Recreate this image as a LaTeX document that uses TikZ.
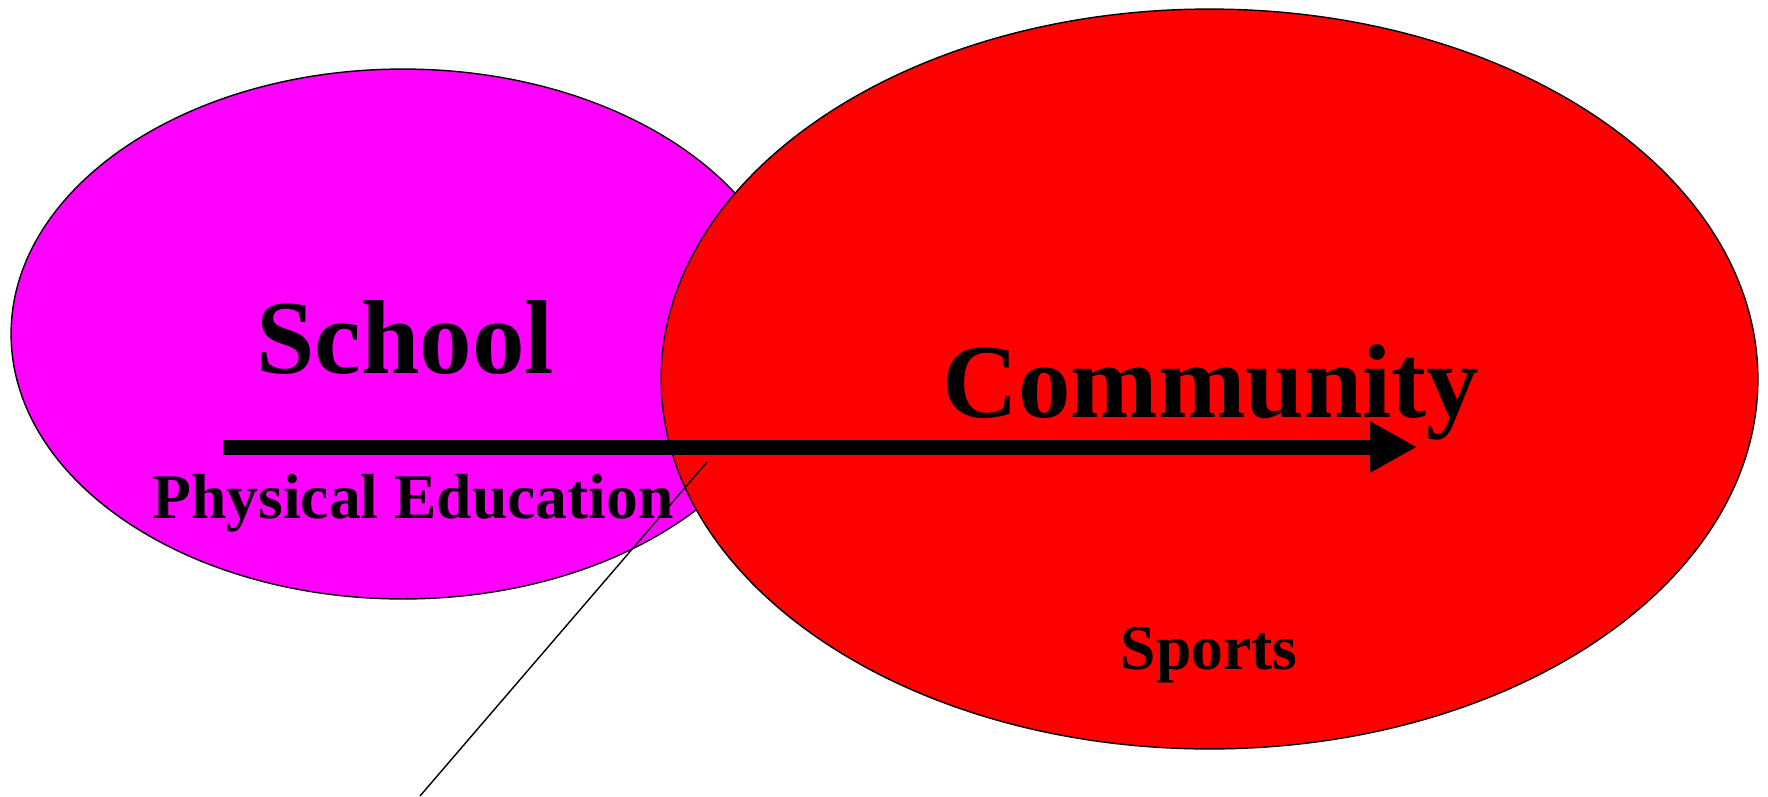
\documentclass[tikz,border=0pt]{standalone}
\usepackage{fontspec}
\setmainfont{Liberation Serif}
\usetikzlibrary{shapes.geometric,arrows.meta}

\definecolor{schoolpink}{RGB}{255,0,255}
\definecolor{communityred}{RGB}{255,0,0}

\tikzset{
	blob/.style={ellipse, draw=black, line width=0.8pt, inner sep=0pt},
	bigword/.style={font=\bfseries\fontsize{59.8}{60}\selectfont, inner sep=0pt, anchor=base},
	smallword/.style={font=\bfseries\fontsize{36.2}{37}\selectfont, inner sep=0pt, anchor=base},
	flow/.style={line width=0.3cm, -{Triangle[length=0.94cm, width=0.96cm]}},
	pointer/.style={line width=0.8pt}
}

\begin{document}
\begin{tikzpicture}[x=0.02cm, y=-0.02cm]
	\useasboundingbox (0,0) rectangle (1768,796);
	\node [blob, fill=schoolpink, minimum width=15.68cm, minimum height=10.6cm] (school) at (403,334) {};
	\node [blob, fill=communityred, minimum width=21.94cm, minimum height=14.8cm] (community) at (1209.5,379) {};
	\coordinate (flowstart) at (223,447);
	\coordinate (flowend) at (1417,447);
	\draw [flow] (flowstart) to (flowend);
	\node [bigword] (schoolname) at (405,373) {School};
	\node [bigword] (communityname) at (1211,417) {Community};
	\node [smallword] (pe) at (413,518) {Physical Education};
	\node [smallword] (sports) at (1209,669) {Sports};
	\coordinate (pointertop) at (707,462);
	\coordinate (pointerfoot) at (420,796);
	\draw [pointer] (pointertop) to (pointerfoot);
\end{tikzpicture}
\end{document}
